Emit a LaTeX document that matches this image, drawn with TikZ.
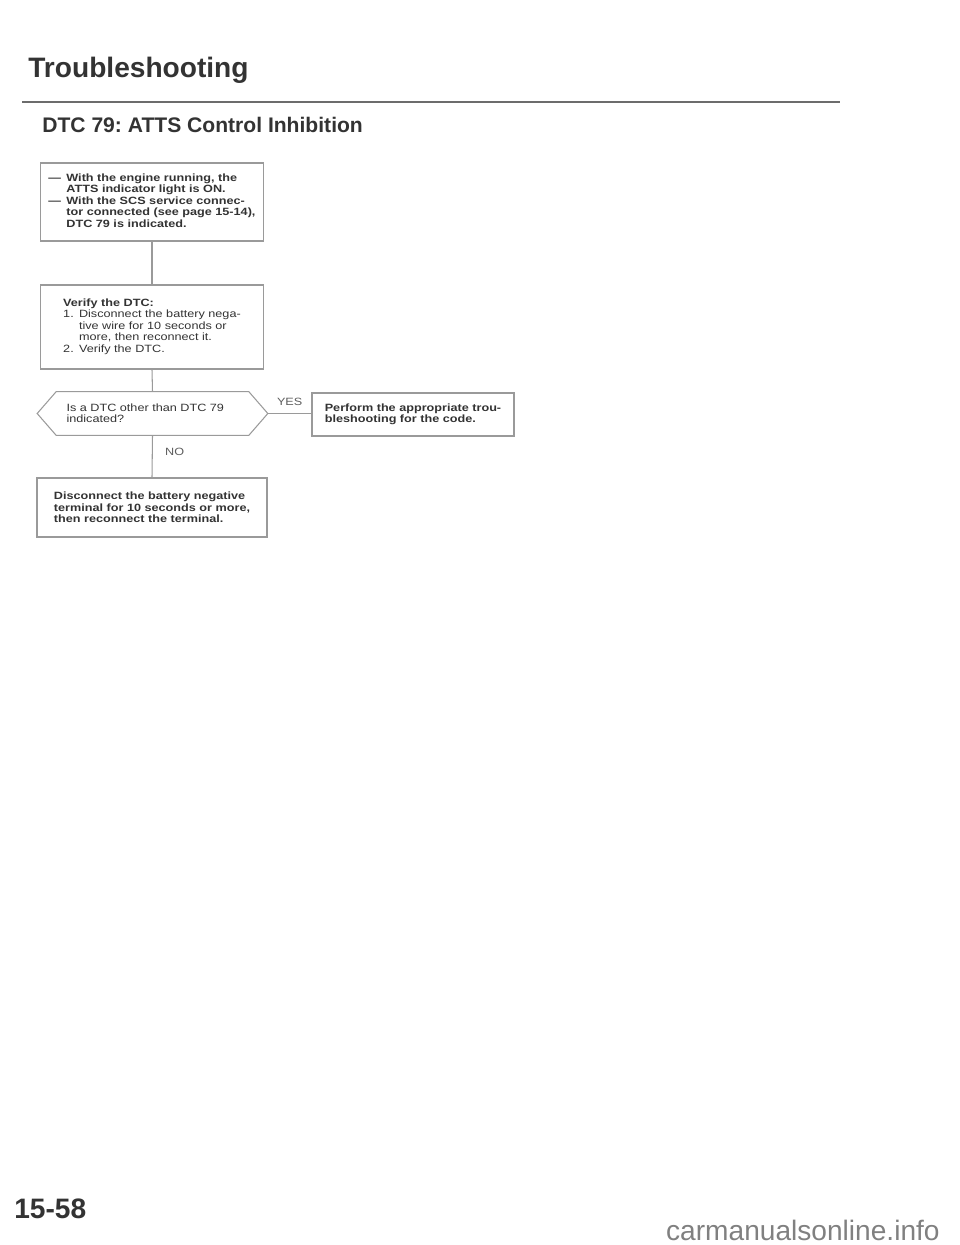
\documentclass[tikz,border=0pt]{standalone}
\usepackage{fontspec}
\setmainfont{Liberation Sans}
\newfontfamily\boxfont[FakeStretch=1.2]{Liberation Sans}
\usetikzlibrary{calc}
\frenchspacing

\definecolor{ink}{HTML}{333333}
\definecolor{frame}{HTML}{9A9A9A}
\newcommand{\boxtext}{\boxfont\fontsize{6}{6.5}\selectfont}

\tikzset{
  stepbox/.style={draw=frame, line width=0.6pt, align=left, inner sep=0pt, text=ink, font=\boxtext},
  flowline/.style={draw=frame, line width=0.6pt},
  answer/.style={font=\boxtext, text=ink!80, inner sep=1pt}
}

\begin{document}
\begin{tikzpicture}[x=0.02cm, y=-0.02cm]
        \useasboundingbox (0,0) rectangle (960,1245);
        \node[anchor=base west, inner sep=0pt, text=ink, font=\bfseries\fontsize{16}{19}\selectfont] (title) at (28,77) {Troubleshooting};
        \draw[line width=1.3pt, color=gray!85!black] (22,102) -- (840,102);
        \node[anchor=base west, inner sep=0pt, text=ink, font=\bfseries\fontsize{12}{14}\selectfont] (subtitle) at (42,132) {DTC 79: ATTS Control Inhibition};
        \node[stepbox, font=\boxtext\bfseries, minimum width=4.46cm, minimum height=1.56cm] (check) at (152,202)
        {\begin{tabular}{@{}l@{\hspace{3pt}}l@{}}
         \textemdash & With the engine running, the\\
             & ATTS indicator light is ON.\\
         \textemdash & With the SCS service connec-\\
             & tor connected (see page 15-14),\\
             & DTC 79 is indicated.
         \end{tabular}};
        \node[stepbox, minimum width=4.46cm, minimum height=1.68cm] (verify) at (152,327)
        {\begin{tabular}{@{}l@{\hspace{3pt}}l@{}}
         \multicolumn{2}{@{}l@{}}{\bfseries Verify the DTC:}\\
         1. & Disconnect the battery nega-\\
            & tive wire for 10 seconds or\\
            & more, then reconnect it.\\
         2. & Verify the DTC.
         \end{tabular}};
        \node[align=left, inner xsep=0.58cm, inner ysep=0pt, text width=3.44cm, minimum height=0.86cm, text=ink, font=\boxtext] (query) at (152.5,413.5)
        {Is a DTC other than DTC 79\\indicated?};
        \draw[flowline] (query.west) -- ($(query.north west)+(19,0)$) -- ($(query.north east)+(-19,0)$) -- (query.east)
        -- ($(query.south east)+(-19,0)$) -- ($(query.south west)+(19,0)$) -- cycle;
        \node[stepbox, font=\boxtext\bfseries, minimum width=4.04cm, minimum height=0.86cm] (other) at (413,414.5)
        {Perform the appropriate trou-\\bleshooting for the code.};
        \node[stepbox, font=\boxtext\bfseries, minimum width=4.6cm, minimum height=1.18cm] (reset) at (152,507.5)
        {Disconnect the battery negative\\terminal for 10 seconds or more,\\then reconnect the terminal.};
        \draw[flowline] (check.south) -- (verify.north);
        \draw[flowline] (verify.south) -- (query.north);
        \draw[flowline] (query.east) -- node[answer, above=3pt] {YES} (other.west |- query.east);
        \draw[flowline] (query.south) -- node[answer, right=6pt, pos=.4] {NO} (reset.north);
        \node[anchor=base west, inner sep=0pt, text=ink, font=\bfseries\fontsize{16}{19}\selectfont] (page) at (14,1218) {15-58};
        \node[anchor=base east, inner sep=0pt, text=gray, font=\fontsize{16}{19}\selectfont] (site) at (940,1240) {carmanualsonline.info};
\end{tikzpicture}
\end{document}
